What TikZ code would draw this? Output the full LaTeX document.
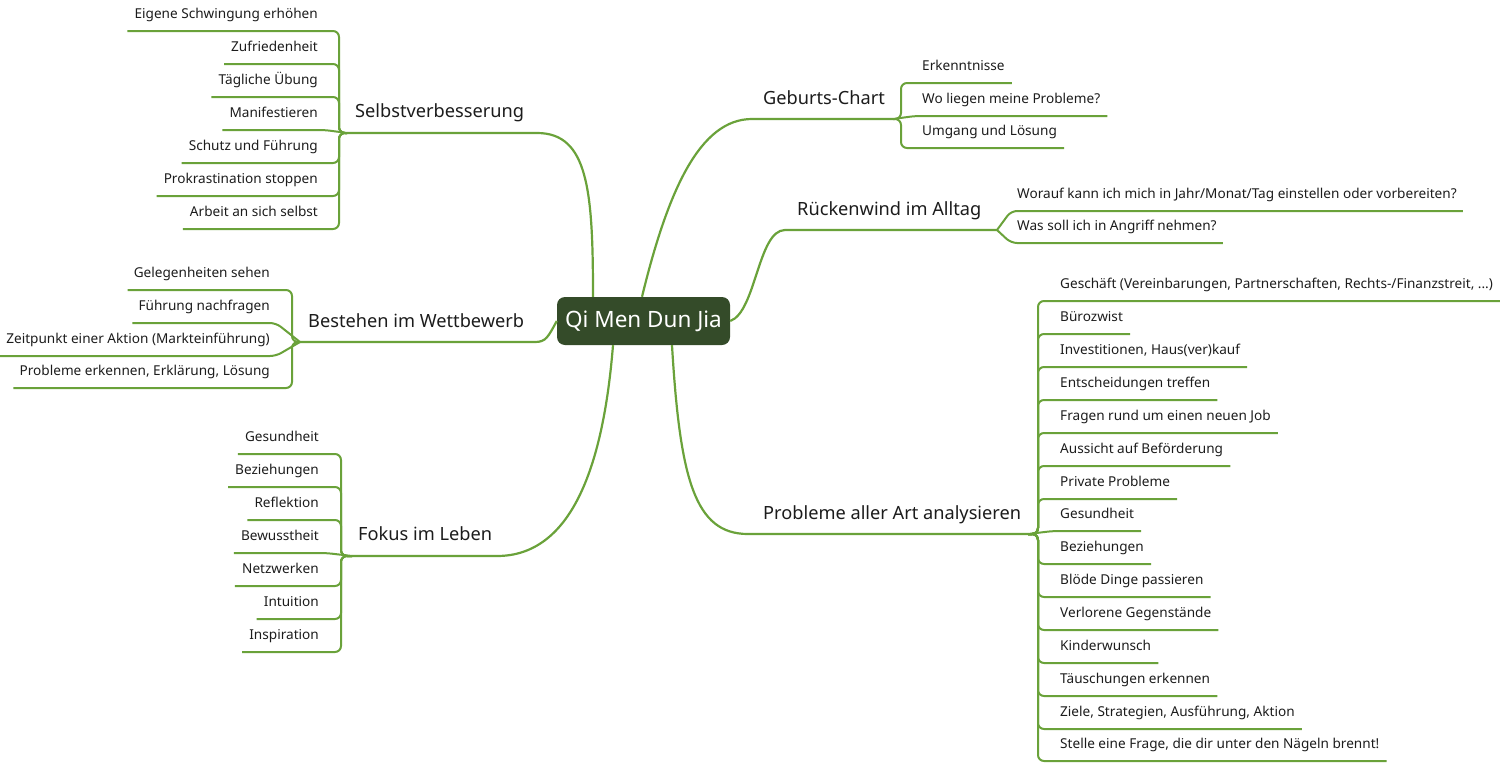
\documentclass[tikz,border=0pt]{standalone}
\usepackage{fontspec}
\setmainfont{Noto Sans}
\definecolor{lg}{RGB}{106,162,58}
\definecolor{cbox}{RGB}{52,75,41}
\definecolor{txt}{RGB}{28,28,28}
\begin{document}
\begin{tikzpicture}[x=1pt,y=-1pt,
  br/.style={draw=lg,line width=2pt,rounded corners=6pt},
  mb/.style={draw=lg,line width=2.2pt},
  lc/.style={font=\fontsize{13.6}{16}\selectfont,text=txt,inner xsep=7pt,inner ysep=12pt,text depth=0pt,anchor=south east},
  rc/.style={lc,anchor=south west},
  topic/.style={font=\fontsize{18.2}{22}\selectfont,text=txt,inner sep=0pt,anchor=base west},
]
\useasboundingbox (0,0) rectangle (1500,763);

% centre
\node[fill=cbox,rounded corners=8pt,minimum width=173pt,minimum height=48pt,inner sep=0pt,
      text=white,font=\fontsize{22.5}{26}\selectfont] (qm) at (643.5,321) {Qi Men Dun Jia};

% ---------- Selbstverbesserung ----------
\node[topic] (tS) at (355,117) {Selbstverbesserung};
\coordinate (hs) at (347,133);
\draw[mb] ([xshift=-50.5pt]qm.north) .. controls (593,190) and (588,133) .. (537,133) -- (hs);
\node[lc] (s1) at (325,31) {Eigene Schwingung erhöhen};
\node[lc] (s2) at (325,64) {Zufriedenheit};
\node[lc] (s3) at (325,97) {Tägliche Übung};
\node[lc] (s4) at (325,130) {Manifestieren};
\node[lc] (s5) at (325,163) {Schutz und Führung};
\node[lc] (s6) at (325,196) {Prokrastination stoppen};
\node[lc] (s7) at (325,229) {Arbeit an sich selbst};
\draw[br] (hs) -- (339,133) -- (339,31) -- (s1.south west);
\draw[br] (hs) -- (339,133) -- (339,64) -- (s2.south west);
\draw[br] (hs) -- (339,133) -- (339,97) -- (s3.south west);
\draw[br] (hs) -- (s4.south east) -- (s4.south west);
\draw[br] (hs) -- (339,133) -- (339,163) -- (s5.south west);
\draw[br] (hs) -- (339,133) -- (339,196) -- (s6.south west);
\draw[br] (hs) -- (339,133) -- (339,229) -- (s7.south west);

% ---------- Bestehen im Wettbewerb ----------
\node[topic] (tB) at (308,327) {Bestehen im Wettbewerb};
\coordinate (hb) at (300,342);
\draw[mb] (qm.west) .. controls (548,337) and (546,342) .. (535,342) -- (hb);
\node[lc,inner xsep=6pt] (b1) at (276,290) {Gelegenheiten sehen};
\node[lc,inner xsep=6pt] (b2) at (276,323) {Führung nachfragen};
\node[lc,inner xsep=6pt] (b3) at (276,356) {Zeitpunkt einer Aktion (Markteinführung)};
\node[lc,inner xsep=6pt] (b4) at (276,388) {Probleme erkennen, Erklärung, Lösung};
\draw[br] (hb) -- (292,342) -- (292,290) -- (b1.south west);
\draw[br] (hb) -- (b2.south east) -- (b2.south west);
\draw[br] (hb) -- (b3.south east) -- (b3.south west);
\draw[br] (hb) -- (292,342) -- (292,388) -- (b4.south west);

% ---------- Fokus im Leben ----------
\node[topic] (tF) at (358,540) {Fokus im Leben};
\coordinate (hf) at (352,556);
\draw[mb] ([xshift=-30.5pt]qm.south) .. controls (603,470) and (570,556) .. (497,556) -- (hf);
\node[lc] (f1) at (326,454) {Gesundheit};
\node[lc] (f2) at (326,487) {Beziehungen};
\node[lc] (f3) at (326,520) {Reflektion};
\node[lc] (f4) at (326,553) {Bewusstheit};
\node[lc] (f5) at (326,586) {Netzwerken};
\node[lc] (f6) at (326,619) {Intuition};
\node[lc] (f7) at (326,652) {Inspiration};
\draw[br] (hf) -- (341,556) -- (341,454) -- (f1.south west);
\draw[br] (hf) -- (341,556) -- (341,487) -- (f2.south west);
\draw[br] (hf) -- (341,556) -- (341,520) -- (f3.south west);
\draw[br] (hf) -- (f4.south east) -- (f4.south west);
\draw[br] (hf) -- (341,556) -- (341,586) -- (f5.south west);
\draw[br] (hf) -- (341,556) -- (341,619) -- (f6.south west);
\draw[br] (hf) -- (341,556) -- (341,652) -- (f7.south west);

% ---------- Geburts-Chart ----------
\node[topic] (tG) at (763,104) {Geburts-Chart};
\coordinate (hg) at (893,119);
\draw[mb] ([xshift=-1.5pt]qm.north) .. controls (668,190) and (700,119) .. (752,119) -- (hg);
\node[rc] (g1) at (915,83) {Erkenntnisse};
\node[rc] (g2) at (915,116) {Wo liegen meine Probleme?};
\node[rc] (g3) at (915,148) {Umgang und Lösung};
\draw[br] (hg) -- (901,119) -- (901,83) -- (g1.south east);
\draw[br] (hg) -- (g2.south west) -- (g2.south east);
\draw[br] (hg) -- (901,119) -- (901,148) -- (g3.south east);

% ---------- Rückenwind im Alltag ----------
\node[topic] (tR) at (797,215) {Rückenwind im Alltag};
\coordinate (hr) at (997,230);
\draw[mb] (qm.east) .. controls (756,312) and (758,230) .. (785,230) -- (hr);
\node[rc,inner xsep=6pt] (r1) at (1011,211) {Worauf kann ich mich in Jahr/Monat/Tag einstellen oder vorbereiten?};
\node[rc,inner xsep=6pt] (r2) at (1011,243) {Was soll ich in Angriff nehmen?};
\draw[br] (hr) -- (r1.south west) -- (r1.south east);
\draw[br] (hr) -- (r2.south west) -- (r2.south east);

% ---------- Probleme aller Art analysieren ----------
\node[topic] (tP) at (763,519) {Probleme aller Art analysieren};
\coordinate (hp) at (1028,534);
\draw[mb] ([xshift=28.5pt]qm.south) .. controls (680,480) and (695,534) .. (748,534) -- (hp);
\node[rc] (p1) at (1053,301) {Geschäft (Vereinbarungen, Partnerschaften, Rechts-/Finanzstreit, ...)};
\node[rc] (p2) at (1053,334) {Bürozwist};
\node[rc] (p3) at (1053,367) {Investitionen, Haus(ver)kauf};
\node[rc] (p4) at (1053,400) {Entscheidungen treffen};
\node[rc] (p5) at (1053,433) {Fragen rund um einen neuen Job};
\node[rc] (p6) at (1053,466) {Aussicht auf Beförderung};
\node[rc] (p7) at (1053,499) {Private Probleme};
\node[rc] (p8) at (1053,531) {Gesundheit};
\node[rc] (p9) at (1053,564) {Beziehungen};
\node[rc] (p10) at (1053,597) {Blöde Dinge passieren};
\node[rc] (p11) at (1053,630) {Verlorene Gegenstände};
\node[rc] (p12) at (1053,663) {Kinderwunsch};
\node[rc] (p13) at (1053,696) {Täuschungen erkennen};
\node[rc] (p14) at (1053,729) {Ziele, Strategien, Ausführung, Aktion};
\node[rc] (p15) at (1053,761) {Stelle eine Frage, die dir unter den Nägeln brennt!};
\foreach \i/\y in {1/301,2/334,3/367,4/400,5/433,6/466,7/499,9/564,10/597,11/630,12/663,13/696,14/729,15/761}{
  \draw[br] (hp) -- (1038,534) -- (1038,\y) -- (p\i.south east);
}
\draw[br] (hp) -- (p8.south west) -- (p8.south east);
\end{tikzpicture}
\end{document}
